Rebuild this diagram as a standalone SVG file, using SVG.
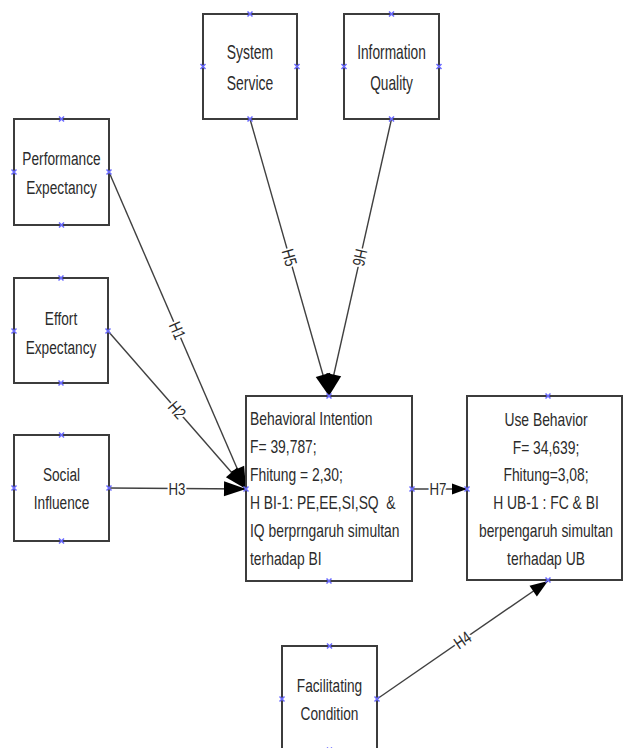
<svg xmlns="http://www.w3.org/2000/svg" xmlns:xlink="http://www.w3.org/1999/xlink" width="624" height="748" viewBox="0 0 624 748">
<style>
.box{fill:#fff;stroke:#3c3c3c;stroke-width:2}
.t{font-family:"Liberation Sans",Arial,sans-serif;font-size:19px;fill:#2b2b2b}
.big{font-size:20.5px}
.c{text-anchor:middle}
.edge{stroke:#404040;stroke-width:1.4;fill:none}
.lbl{font-family:"Liberation Sans",Arial,sans-serif;font-size:17px;fill:#2b2b2b;text-anchor:middle;stroke:#fff;stroke-width:5;paint-order:stroke;stroke-linejoin:round}
.mk{stroke:#6a6aff;stroke-width:1.5;fill:none}
</style>
<defs>
<path id="x" class="mk" d="M-2.5,-2.5L2.5,2.5M-2.5,2.5L2.5,-2.5"/>
<marker id="ab" markerUnits="userSpaceOnUse" markerWidth="24" markerHeight="18" refX="22" refY="8" orient="auto" overflow="visible">
<path d="M22,8L0,0.5L0,15.5z" fill="#000"/>
</marker>
<marker id="am" markerUnits="userSpaceOnUse" markerWidth="20" markerHeight="14" refX="18" refY="6.5" orient="auto" overflow="visible">
<path d="M18,6.5L0,0L0,13z" fill="#000"/>
</marker>
<marker id="as" markerUnits="userSpaceOnUse" markerWidth="16" markerHeight="12" refX="15" refY="5.5" orient="auto" overflow="visible">
<path d="M15,5.5L0,0L0,11z" fill="#000"/>
</marker>
</defs>
<rect width="624" height="748" fill="#fff"/>

<g id="connectors">
<line class="edge" x1="109" y1="172" x2="246" y2="489" marker-end="url(#ab)"/>
<line class="edge" x1="108" y1="331" x2="246" y2="489" marker-end="url(#ab)"/>
<line class="edge" x1="109" y1="488" x2="246" y2="489" marker-end="url(#ab)"/>
<line class="edge" x1="250" y1="119" x2="329" y2="396" marker-end="url(#ab)"/>
<line class="edge" x1="391.5" y1="119" x2="329" y2="396" marker-end="url(#ab)"/>
<line class="edge" x1="412" y1="489" x2="467" y2="489" marker-end="url(#as)"/>
<line class="edge" x1="377" y1="699" x2="548" y2="581" marker-end="url(#am)"/>
<g transform="translate(177.5,330.5) rotate(66.6) scale(0.78,1)"><text class="lbl" x="0" y="6">H1</text></g>
<g transform="translate(177,410) rotate(49) scale(0.78,1)"><text class="lbl" x="0" y="6">H2</text></g>
<g transform="translate(177,488.5) scale(0.78,1)"><text class="lbl" x="0" y="6">H3</text></g>
<g transform="translate(289.5,257.5) rotate(74) scale(0.78,1)"><text class="lbl" x="0" y="6">H5</text></g>
<g transform="translate(360,257.5) rotate(102.7) scale(0.78,1)"><text class="lbl" x="0" y="6">H6</text></g>
<g transform="translate(438,489) scale(0.78,1)"><text class="lbl" x="0" y="6">H7</text></g>
<g transform="translate(462.5,640) rotate(-34.6) scale(0.78,1)"><text class="lbl" x="0" y="6">H4</text></g>
</g>

<g id="system-service">
<rect class="box" x="203" y="14" width="94" height="105"/>
<g transform="translate(250,0) scale(0.68,1)"><text class="t big c" x="0" y="59">System</text><text class="t big c" x="0" y="90">Service</text></g>
<use xlink:href="#x" x="250" y="14"/><use xlink:href="#x" x="250" y="119"/><use xlink:href="#x" x="203" y="66.5"/><use xlink:href="#x" x="297" y="66.5"/>
</g>

<g id="information-quality">
<rect class="box" x="344" y="14" width="95" height="105"/>
<g transform="translate(391.5,0) scale(0.67,1)"><text class="t big c" x="0" y="59">Information</text><text class="t big c" x="0" y="90">Quality</text></g>
<use xlink:href="#x" x="391.5" y="14"/><use xlink:href="#x" x="391.5" y="119"/><use xlink:href="#x" x="344" y="66.5"/><use xlink:href="#x" x="439" y="66.5"/>
</g>

<g id="performance-expectancy">
<rect class="box" x="14" y="119" width="95" height="106"/>
<g transform="translate(61.5,0) scale(0.72,1)"><text class="t c" x="0" y="165">Performance</text><text class="t c" x="0" y="194">Expectancy</text></g>
<use xlink:href="#x" x="61.5" y="119"/><use xlink:href="#x" x="61.5" y="225"/><use xlink:href="#x" x="14" y="172"/><use xlink:href="#x" x="109" y="172"/>
</g>

<g id="effort-expectancy">
<rect class="box" x="14" y="278" width="94" height="105"/>
<g transform="translate(61,0) scale(0.72,1)"><text class="t c" x="0" y="325">Effort</text><text class="t c" x="0" y="354">Expectancy</text></g>
<use xlink:href="#x" x="61" y="278"/><use xlink:href="#x" x="61" y="383"/><use xlink:href="#x" x="14" y="331"/><use xlink:href="#x" x="108" y="331"/>
</g>

<g id="social-influence">
<rect class="box" x="14" y="435" width="95" height="106"/>
<g transform="translate(61.5,0) scale(0.72,1)"><text class="t c" x="0" y="481">Social</text><text class="t c" x="0" y="509">Influence</text></g>
<use xlink:href="#x" x="61.5" y="435"/><use xlink:href="#x" x="61.5" y="541"/><use xlink:href="#x" x="14" y="488"/><use xlink:href="#x" x="109" y="488"/>
</g>

<g id="behavioral-intention">
<rect class="box" x="246" y="396" width="166" height="185"/>
<g transform="translate(250,0) scale(0.73,1)">
<text class="t" x="0" y="425">Behavioral Intention</text>
<text class="t" x="0" y="453">F= 39,787;</text>
<text class="t" x="0" y="481">Fhitung = 2,30;</text>
<text class="t" x="0" y="509">H BI-1: PE,EE,SI,SQ &#160;&amp;</text>
<text class="t" x="0" y="537">IQ berprngaruh simultan</text>
<text class="t" x="0" y="565">terhadap BI</text>
</g>
<use xlink:href="#x" x="329" y="396"/><use xlink:href="#x" x="329" y="581"/><use xlink:href="#x" x="246" y="489"/><use xlink:href="#x" x="412" y="489"/>
</g>

<g id="use-behavior">
<rect class="box" x="467" y="396" width="155" height="184"/>
<g transform="translate(546,0) scale(0.73,1)">
<text class="t c" x="0" y="426">Use Behavior</text>
<text class="t c" x="0" y="454">F= 34,639;</text>
<text class="t c" x="0" y="481">Fhitung=3,08;</text>
<text class="t c" x="0" y="509">H UB-1 : FC &amp; BI</text>
<text class="t c" x="0" y="537">berpengaruh simultan</text>
<text class="t c" x="0" y="565">terhadap UB</text>
</g>
<use xlink:href="#x" x="548" y="396"/><use xlink:href="#x" x="548" y="580"/><use xlink:href="#x" x="467" y="489"/>
</g>

<g id="facilitating-condition">
<rect class="box" x="282" y="646" width="95" height="106"/>
<g transform="translate(329.5,0) scale(0.72,1)"><text class="t c" x="0" y="692">Facilitating</text><text class="t c" x="0" y="720">Condition</text></g>
<use xlink:href="#x" x="329.5" y="646"/><use xlink:href="#x" x="329.5" y="750"/><use xlink:href="#x" x="282" y="699"/><use xlink:href="#x" x="377" y="699"/>
</g>
</svg>
